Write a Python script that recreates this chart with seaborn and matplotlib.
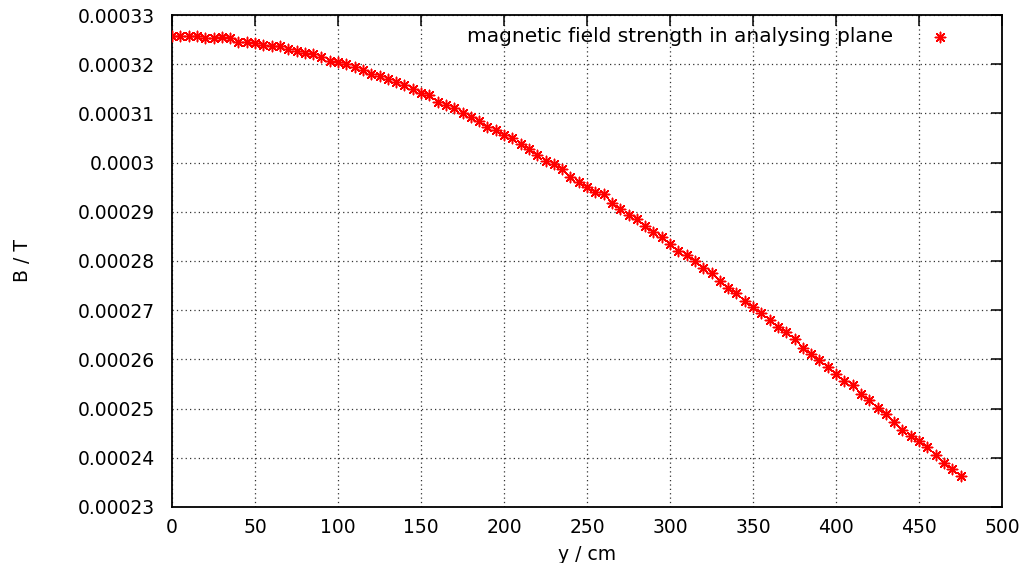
import numpy as np
import pandas as pd
import matplotlib
matplotlib.use("Agg")
import matplotlib.pyplot as plt
from matplotlib.ticker import FuncFormatter, MultipleLocator
import seaborn as sns

# Position along the analysing plane (cm)
y_cm = list(range(0, 480, 5))

# Measured field strength (T)
b_tesla = [
    0.0003258, 0.0003258, 0.0003258, 0.0003258, 0.0003254, 0.0003254, 0.0003256, 0.0003253,
    0.0003246, 0.0003246, 0.0003244, 0.0003239, 0.0003238, 0.0003238, 0.0003230, 0.0003227,
    0.0003223, 0.0003220, 0.0003215, 0.0003207, 0.0003205, 0.0003201, 0.0003194, 0.0003189,
    0.0003181, 0.0003176, 0.0003169, 0.0003164, 0.0003157, 0.0003150, 0.0003142, 0.0003138,
    0.0003124, 0.0003117, 0.0003110, 0.0003101, 0.0003092, 0.0003085, 0.0003073, 0.0003066,
    0.0003056, 0.0003050, 0.0003037, 0.0003027, 0.0003016, 0.0003003, 0.0002997, 0.0002987,
    0.0002971, 0.0002961, 0.0002951, 0.0002941, 0.0002936, 0.0002918, 0.0002906, 0.0002894,
    0.0002885, 0.0002871, 0.0002858, 0.0002848, 0.0002834, 0.0002820, 0.0002812, 0.0002800,
    0.0002786, 0.0002775, 0.0002760, 0.0002746, 0.0002734, 0.0002718, 0.0002706, 0.0002695,
    0.0002681, 0.0002666, 0.0002656, 0.0002642, 0.0002624, 0.0002611, 0.0002599, 0.0002585,
    0.0002571, 0.0002557, 0.0002547, 0.0002529, 0.0002517, 0.0002501, 0.0002489, 0.0002473,
    0.0002457, 0.0002444, 0.0002435, 0.0002421, 0.0002405, 0.0002389, 0.0002378, 0.0002363,
]

series_label = "magnetic field strength in analysing plane"
x_label = "y / cm"
y_label = "B / T"

df = pd.DataFrame({"y": y_cm, "B": b_tesla})

sns.set_style("white")
plt.rcParams["font.family"] = ["DejaVu Sans"]
plt.rcParams["font.size"] = 13
plt.rcParams["text.color"] = "black"
plt.rcParams["axes.labelcolor"] = "black"

fig = plt.figure(figsize=(10.28, 5.63), dpi=100)
ax = fig.add_axes([172 / 1028, 1 - 507 / 563, 830 / 1028, 492 / 563])

sns.scatterplot(
    data=df, x="y", y="B", ax=ax,
    marker=(8, 2, 0), s=55, color="#ff0000", edgecolor="#ff0000",
    linewidth=1.1, label=series_label, zorder=3,
)

ax.set_xlim(0, 500)
ax.set_ylim(0.00023, 0.00033)
ax.xaxis.set_major_locator(MultipleLocator(50))
ax.yaxis.set_major_locator(MultipleLocator(0.00001))
ax.yaxis.set_major_formatter(FuncFormatter(lambda v, p: f"{v:g}"))

ax.grid(True, color="#333333", linestyle=(0, (1, 2.5)), linewidth=0.9)
ax.set_axisbelow(True)
for s in ax.spines.values():
    s.set_color("black")
    s.set_linewidth(1.3)

ax.tick_params(axis="both", direction="in", length=8, width=1.1, color="black",
               top=True, right=True, labelsize=13.5, labelcolor="black")
ax.tick_params(axis="x", pad=8)
ax.tick_params(axis="y", pad=12)

ax.set_xlabel(x_label, fontsize=13.5, labelpad=6, color="black")
ax.set_ylabel(y_label, fontsize=13.5, labelpad=33, color="black")

leg = ax.legend(loc="upper right", frameon=False, markerfirst=False,
                fontsize=14.5, handletextpad=1.3, borderaxespad=0.2,
                bbox_to_anchor=(0.964, 1.0))
for t in leg.get_texts():
    t.set_color("black")

fig.savefig("out.png", dpi=100, facecolor="white")
